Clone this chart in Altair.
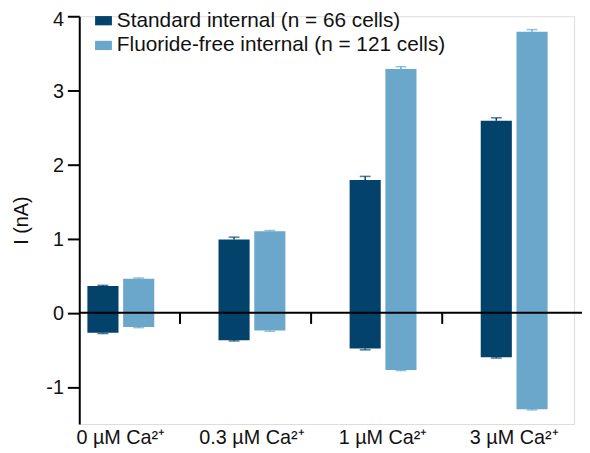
import altair as alt
import pandas as pd

groups = ["0 µM Ca²⁺", "0.3 µM Ca²⁺", "1 µM Ca²⁺", "3 µM Ca²⁺"]
series = ["Standard internal (n = 66 cells)", "Fluoride-free internal (n = 121 cells)"]
colors = ["#03426a", "#6aa7cb"]

# outward (positive) and inward (negative) current means, with SEM
std_pos = [0.36, 0.99, 1.79, 2.59]
std_pos_err = [0.01, 0.03, 0.05, 0.04]
std_neg = [-0.27, -0.37, -0.48, -0.60]
std_neg_err = [0.01, 0.01, 0.02, 0.01]

fl_pos = [0.46, 1.10, 3.29, 3.79]
fl_pos_err = [0.01, 0.01, 0.03, 0.03]
fl_neg = [-0.19, -0.24, -0.77, -1.30]
fl_neg_err = [0.01, 0.01, 0.01, 0.01]

y_ticks = [-1, 0, 1, 2, 3, 4]

rows = []
for i, g in enumerate(groups):
    for s, p, pe, n, ne in [
        (series[0], std_pos[i], std_pos_err[i], std_neg[i], std_neg_err[i]),
        (series[1], fl_pos[i], fl_pos_err[i], fl_neg[i], fl_neg_err[i]),
    ]:
        rows.append(dict(group=g, series=s, pos=p, neg=n, pos_hi=p + pe, neg_lo=n - ne))
df = pd.DataFrame(rows)

FONT = "Liberation Sans"
y_scale = alt.Scale(domain=[-1.5, 4], nice=False, zero=False)
x_scale = alt.Scale(paddingInner=0.49, paddingOuter=0.132, align=0.235)
xo_scale = alt.Scale(paddingInner=0.13, paddingOuter=0)

x_enc = alt.X(
    "group:N", sort=groups, scale=x_scale,
    axis=alt.Axis(title=None, labelAngle=0, domain=False, ticks=False,
                  labelFontSize=20, labelPadding=4, labelColor="#111", labelFont=FONT),
)
xo_enc = alt.XOffset("series:N", sort=series, scale=xo_scale)
color_scale = alt.Scale(domain=series, range=colors)
color_enc = alt.Color(
    "series:N", sort=series, scale=color_scale,
    legend=alt.Legend(
        title=None, orient="none", legendX=14, legendY=-6,
        labelFontSize=21, labelFont=FONT, labelColor="#111", labelLimit=0,
        symbolType="M-1,-0.55H1V0.55H-1Z", symbolSize=289, symbolStrokeWidth=0,
        labelOffset=3, rowPadding=3,
    ),
)
color_nl = alt.Color("series:N", sort=series, scale=color_scale, legend=None)

base = alt.Chart(df)

bars = base.mark_bar().encode(
    x=x_enc, xOffset=xo_enc,
    y=alt.Y("pos:Q", scale=y_scale,
            axis=alt.Axis(title="I (nA)", values=y_ticks, labelExpr="toString(datum.value)",
                          grid=False,
                          domainColor="black", domainWidth=2, tickColor="black",
                          tickWidth=2, tickSize=12, labelPadding=4, labelFontSize=20,
                          labelOffset={"condition": {"test": "datum.value == 4", "value": 3}, "value": 1},
                          labelColor="#111", labelFont=FONT, titleFont=FONT,
                          titleFontSize=20, titleFontWeight="normal", titleColor="#111",
                          titlePadding=15)),
    y2="neg:Q",
    color=color_enc,
)

err_up = base.mark_rule(strokeWidth=1.5).encode(
    x=x_enc, xOffset=xo_enc, y=alt.Y("pos:Q", scale=y_scale), y2="pos_hi:Q", color=color_nl,
)
cap_up = base.mark_tick(size=11, thickness=1.5).encode(
    x=x_enc, xOffset=xo_enc, y=alt.Y("pos_hi:Q", scale=y_scale), color=color_nl,
)
err_dn = base.mark_rule(strokeWidth=1.5).encode(
    x=x_enc, xOffset=xo_enc, y=alt.Y("neg:Q", scale=y_scale), y2="neg_lo:Q", color=color_nl,
)
cap_dn = base.mark_tick(size=11, thickness=1.5).encode(
    x=x_enc, xOffset=xo_enc, y=alt.Y("neg_lo:Q", scale=y_scale), color=color_nl,
)

zero_line = alt.Chart(pd.DataFrame({"v": [0]})).mark_rule(color="black", strokeWidth=2).encode(
    y=alt.Y("v:Q", scale=y_scale),
    x=alt.value(0),
    x2=alt.value(508),
)

sep = alt.Chart(pd.DataFrame({"group": groups[:3]})).mark_rule(
    color="black", strokeWidth=2, xOffset=26
).encode(
    x=alt.X("group:N", sort=groups, bandPosition=1),
    y=alt.datum(0),
    y2=alt.datum(-0.15),
)

chart = alt.layer(bars, err_up, cap_up, err_dn, cap_dn, zero_line, sep).properties(
    width=500, height=412,
    autosize=alt.AutoSizeParams(type="none"),
    padding={"left": 72, "top": 6, "right": 8, "bottom": 30},
).configure_view(stroke=None).configure(font=FONT)

chart.save("out.html", embed_options={"renderer": "svg", "actions": False})
